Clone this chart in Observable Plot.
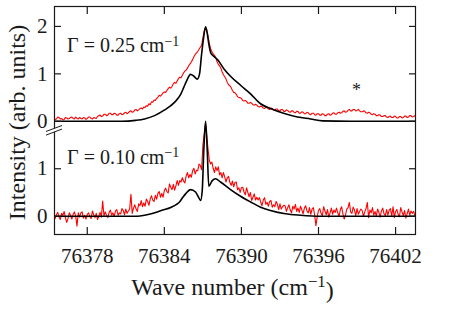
<!DOCTYPE html>
<html><head><meta charset="utf-8">
<script src="https://cdn.jsdelivr.net/npm/d3@7"></script>
<script src="https://cdn.jsdelivr.net/npm/@observablehq/plot@0.6"></script>
<style>body{margin:0;background:#fff} svg{display:block}</style>
</head><body><div id="chart"></div>
<script>
// Shared wave-number grid of the measured spectra (cm^-1)
const waveNumbers = [
  76375.4, 76375.5, 76375.6, 76375.7, 76375.8, 76375.9, 76376.0, 76376.1, 76376.2, 76376.3, 76376.4, 76376.5, 76376.6, 76376.7, 76376.8, 76376.9, 76377.0, 76377.1, 76377.2, 76377.3,
  76377.4, 76377.5, 76377.6, 76377.7, 76377.8, 76377.9, 76378.0, 76378.1, 76378.2, 76378.3, 76378.4, 76378.5, 76378.6, 76378.7, 76378.8, 76378.9, 76379.0, 76379.1, 76379.2, 76379.3,
  76379.4, 76379.5, 76379.6, 76379.7, 76379.8, 76379.9, 76380.0, 76380.1, 76380.2, 76380.3, 76380.4, 76380.5, 76380.6, 76380.7, 76380.8, 76380.9, 76381.0, 76381.1, 76381.2, 76381.3,
  76381.4, 76381.5, 76381.6, 76381.7, 76381.8, 76381.9, 76382.0, 76382.1, 76382.2, 76382.3, 76382.4, 76382.5, 76382.6, 76382.7, 76382.8, 76382.9, 76383.0, 76383.1, 76383.2, 76383.3,
  76383.4, 76383.5, 76383.6, 76383.7, 76383.8, 76383.9, 76384.0, 76384.1, 76384.2, 76384.3, 76384.4, 76384.5, 76384.6, 76384.7, 76384.8, 76384.9, 76385.0, 76385.1, 76385.2, 76385.3,
  76385.4, 76385.5, 76385.6, 76385.7, 76385.8, 76385.9, 76386.0, 76386.1, 76386.2, 76386.3, 76386.4, 76386.5, 76386.6, 76386.7, 76386.8, 76386.9, 76387.0, 76387.1, 76387.2, 76387.3,
  76387.4, 76387.5, 76387.6, 76387.7, 76387.8, 76387.9, 76388.0, 76388.1, 76388.2, 76388.3, 76388.4, 76388.5, 76388.6, 76388.7, 76388.8, 76388.9, 76389.0, 76389.1, 76389.2, 76389.3,
  76389.4, 76389.5, 76389.6, 76389.7, 76389.8, 76389.9, 76390.0, 76390.1, 76390.2, 76390.3, 76390.4, 76390.5, 76390.6, 76390.7, 76390.8, 76390.9, 76391.0, 76391.1, 76391.2, 76391.3,
  76391.4, 76391.5, 76391.6, 76391.7, 76391.8, 76391.9, 76392.0, 76392.1, 76392.2, 76392.3, 76392.4, 76392.5, 76392.6, 76392.7, 76392.8, 76392.9, 76393.0, 76393.1, 76393.2, 76393.3,
  76393.4, 76393.5, 76393.6, 76393.7, 76393.8, 76393.9, 76394.0, 76394.1, 76394.2, 76394.3, 76394.4, 76394.5, 76394.6, 76394.7, 76394.8, 76394.9, 76395.0, 76395.1, 76395.2, 76395.3,
  76395.4, 76395.5, 76395.6, 76395.7, 76395.8, 76395.9, 76396.0, 76396.1, 76396.2, 76396.3, 76396.4, 76396.5, 76396.6, 76396.7, 76396.8, 76396.9, 76397.0, 76397.1, 76397.2, 76397.3,
  76397.4, 76397.5, 76397.6, 76397.7, 76397.8, 76397.9, 76398.0, 76398.1, 76398.2, 76398.3, 76398.4, 76398.5, 76398.6, 76398.7, 76398.8, 76398.9, 76399.0, 76399.1, 76399.2, 76399.3,
  76399.4, 76399.5, 76399.6, 76399.7, 76399.8, 76399.9, 76400.0, 76400.1, 76400.2, 76400.3, 76400.4, 76400.5, 76400.6, 76400.7, 76400.8, 76400.9, 76401.0, 76401.1, 76401.2, 76401.3,
  76401.4, 76401.5, 76401.6, 76401.7, 76401.8, 76401.9, 76402.0, 76402.1, 76402.2, 76402.3, 76402.4, 76402.5, 76402.6, 76402.7, 76402.8, 76402.9, 76403.0, 76403.1, 76403.2, 76403.3,
  76403.4, 76403.5, 76403.6
];
// Measured intensity, Γ = 0.25 cm^-1 (upper panel)
const measuredTop = [
  0.07, 0.04, 0.05, 0.09, 0.08, 0.05, 0.06, 0.03, 0.04, 0.08, 0.07, 0.05, 0.06, 0.08, 0.09, 0.06, 0.05, 0.09, 0.06, 0.05,
  0.08, 0.06, 0.05, 0.08, 0.07, 0.04, 0.06, 0.09, 0.09, 0.06, 0.05, 0.08, 0.07, 0.06, 0.10, 0.12, 0.13, 0.10, 0.11, 0.15,
  0.15, 0.12, 0.13, 0.17, 0.17, 0.14, 0.14, 0.17, 0.16, 0.13, 0.13, 0.16, 0.17, 0.14, 0.15, 0.18, 0.19, 0.16, 0.18, 0.21,
  0.22, 0.19, 0.20, 0.24, 0.25, 0.22, 0.24, 0.27, 0.28, 0.26, 0.30, 0.29, 0.33, 0.32, 0.37, 0.35, 0.41, 0.40, 0.45, 0.44,
  0.48, 0.51, 0.55, 0.53, 0.56, 0.60, 0.62, 0.61, 0.65, 0.69, 0.72, 0.70, 0.74, 0.79, 0.82, 0.80, 0.85, 0.90, 0.93, 0.92,
  0.97, 1.02, 1.06, 1.08, 1.12, 1.17, 1.21, 1.25, 1.30, 1.36, 1.41, 1.44, 1.47, 1.52, 1.56, 1.60, 1.76, 1.90, 1.97, 1.93,
  1.80, 1.64, 1.53, 1.47, 1.42, 1.39, 1.34, 1.26, 1.20, 1.17, 1.12, 1.04, 0.98, 0.94, 0.89, 0.82, 0.77, 0.75, 0.71, 0.65,
  0.61, 0.60, 0.57, 0.52, 0.50, 0.50, 0.48, 0.44, 0.43, 0.44, 0.42, 0.38, 0.38, 0.40, 0.38, 0.35, 0.34, 0.36, 0.34, 0.31,
  0.30, 0.32, 0.31, 0.28, 0.27, 0.30, 0.29, 0.26, 0.25, 0.28, 0.27, 0.24, 0.23, 0.26, 0.26, 0.22, 0.22, 0.25, 0.25, 0.21,
  0.21, 0.24, 0.23, 0.20, 0.19, 0.22, 0.22, 0.19, 0.18, 0.21, 0.21, 0.17, 0.17, 0.20, 0.19, 0.16, 0.16, 0.19, 0.18, 0.15,
  0.14, 0.17, 0.17, 0.14, 0.13, 0.16, 0.16, 0.13, 0.13, 0.16, 0.15, 0.12, 0.12, 0.15, 0.16, 0.13, 0.14, 0.17, 0.18, 0.15,
  0.15, 0.18, 0.19, 0.17, 0.18, 0.21, 0.22, 0.19, 0.20, 0.23, 0.25, 0.22, 0.22, 0.25, 0.25, 0.22, 0.23, 0.25, 0.22, 0.20,
  0.20, 0.22, 0.21, 0.18, 0.17, 0.19, 0.18, 0.15, 0.14, 0.16, 0.15, 0.12, 0.12, 0.14, 0.13, 0.10, 0.10, 0.12, 0.12, 0.09,
  0.08, 0.10, 0.11, 0.08, 0.08, 0.11, 0.10, 0.07, 0.07, 0.10, 0.10, 0.07, 0.08, 0.11, 0.11, 0.08, 0.09, 0.12, 0.12, 0.09,
  0.10, 0.12, 0.11
];
// Measured intensity, Γ = 0.10 cm^-1 (lower panel)
const measuredBottom = [
  0.05, -0.05, 0.03, 0.08, -0.01, -0.07, 0.06, 0.01, 0.10, -0.03, -0.13, -0.05, 0.07, 0.02, -0.06, 0.04, 0.09, 0.00, -0.21, 0.07,
  -0.02, 0.07, 0.09, -0.04, 0.02, -0.06, 0.04, 0.07, 0.00, -0.05, 0.11, 0.03, -0.03, 0.06, -0.07, 0.00, 0.08, -0.02, 0.32, 0.01,
  0.09, 0.02, -0.03, 0.08, 0.13, 0.02, 0.07, 0.00, 0.11, 0.14, 0.02, 0.07, 0.05, 0.16, 0.12, 0.03, 0.15, 0.06, 0.11, 0.15,
  0.46, 0.06, 0.17, 0.24, 0.15, 0.10, 0.26, 0.22, 0.33, 0.20, 0.28, 0.21, 0.36, 0.31, 0.23, 0.36, 0.43, 0.34, 0.31, 0.44,
  0.36, 0.48, 0.52, 0.40, 0.48, 0.40, 0.54, 0.59, 0.52, 0.49, 0.68, 0.61, 0.56, 0.67, 0.55, 0.64, 0.75, 0.65, 0.75, 0.72,
  0.81, 0.74, 0.70, 0.85, 0.92, 0.81, 0.88, 0.82, 0.96, 1.01, 0.89, 0.97, 0.96, 1.10, 1.07, 0.98, 1.50, 1.72, 1.96, 1.70,
  1.42, 1.18, 1.10, 1.14, 1.01, 0.92, 1.04, 0.96, 1.04, 0.87, 0.92, 0.81, 0.92, 0.83, 0.72, 0.81, 0.84, 0.71, 0.65, 0.74,
  0.62, 0.71, 0.72, 0.56, 0.60, 0.50, 0.60, 0.61, 0.51, 0.45, 0.60, 0.50, 0.41, 0.50, 0.33, 0.40, 0.47, 0.34, 0.40, 0.34,
  0.39, 0.30, 0.22, 0.34, 0.39, 0.25, 0.29, 0.21, 0.31, 0.33, 0.19, 0.24, 0.20, 0.31, 0.25, 0.14, 0.26, 0.15, 0.20, 0.23,
  0.22, 0.10, 0.18, 0.24, 0.13, 0.07, 0.21, 0.15, 0.25, 0.10, 0.17, 0.08, 0.21, 0.14, 0.05, 0.17, 0.22, 0.11, 0.07, 0.18,
  0.04, 0.15, 0.18, 0.02, -0.20, -0.01, 0.12, 0.16, 0.06, 0.01, 0.20, 0.11, 0.03, 0.14, -0.02, 0.07, 0.17, 0.04, 0.13, 0.08,
  0.17, 0.07, 0.00, 0.14, 0.20, 0.05, -0.06, 0.02, 0.15, 0.18, 0.29, 0.09, 0.06, 0.19, 0.13, 0.01, 0.16, 0.04, 0.10, 0.15,
  0.12, -0.01, 0.09, 0.16, 0.29, -0.03, 0.13, 0.07, 0.18, 0.02, 0.10, 0.00, 0.15, 0.08, -0.02, 0.11, 0.17, 0.05, 0.01, 0.14,
  0.02, 0.13, 0.16, 0.00, 0.20, -0.03, 0.10, 0.14, 0.04, -0.01, 0.18, 0.09, 0.01, 0.12, -0.04, 0.05, 0.15, 0.02, 0.11, 0.06,
  0.10, 0.01, 0.05
];
// Simulated curves (black)
const simTopW = [76375.45, 76380.67, 76381.76, 76382.46, 76383.24, 76384.02, 76384.79, 76385.26, 76385.52, 76385.78,
  76386.04, 76386.30, 76386.56, 76386.74, 76386.89, 76387.05, 76387.21, 76387.34, 76387.48, 76387.63,
  76387.85, 76388.14, 76388.63, 76389.15, 76389.93, 76390.71, 76391.49, 76392.26, 76393.28, 76394.37,
  76395.38, 76396.31, 76398.5, 76403.55];
const simTopV = [0, 0, 0.02, 0.05, 0.12, 0.24, 0.40, 0.56, 0.72, 0.88,
  0.99, 0.95, 0.89, 1.00, 1.39, 1.75, 1.99, 1.85, 1.60, 1.43,
  1.37, 1.30, 1.11, 0.95, 0.76, 0.58, 0.37, 0.27, 0.17, 0.09,
  0.05, 0.01, 0, 0];
const simBottomW = [76375.45, 76381.92, 76382.46, 76382.98, 76383.76, 76384.54, 76384.95, 76385.18, 76385.44, 76385.65,
  76386.04, 76386.43, 76386.66, 76386.82, 76386.95, 76387.07, 76387.21, 76387.34, 76387.46, 76387.73,
  76387.98, 76388.37, 76389.15, 76389.93, 76390.71, 76391.49, 76392.26, 76393.43, 76394.60, 76396.15,
  76403.55];
const simBottomV = [0, 0, 0.02, 0.05, 0.12, 0.19, 0.25, 0.30, 0.40, 0.47,
  0.56, 0.51, 0.40, 0.33, 0.54, 1.38, 2.00, 1.38, 0.63, 0.75,
  0.79, 0.72, 0.56, 0.42, 0.30, 0.19, 0.12, 0.05, 0.02, 0,
  0];
const xTicks = [76378, 76384, 76390, 76396, 76402];
const yTicks = [0, 1, 2, 3, 4];
const yTickLabels = ["0", "1", "0", "1", "2"];
const panelLabels = ["Γ = 0.25 cm", "Γ = 0.10 cm"];

const offset = 2; // upper panel stacked 2 units above lower one
const redTop = waveNumbers.map((w, i) => ({w, v: measuredTop[i] + offset}));
const redBottom = waveNumbers.map((w, i) => ({w, v: measuredBottom[i]}));
const blackTop = simTopW.map((w, i) => ({w, v: simTopV[i] + offset}));
const blackBottom = simBottomW.map((w, i) => ({w, v: simBottomV[i]}));

const font = "'Liberation Serif', 'Times New Roman', serif";
const ink = "#1a1a1a";

const plot = Plot.plot({
  width: 473, height: 312,
  marginLeft: 54, marginRight: 58, marginTop: 6, marginBottom: 78,
  style: {fontFamily: font, background: "white", color: ink},
  x: {domain: [76375.45, 76403.55], label: null},
  y: {domain: [-0.386, 4.42], label: null},
  marks: [
    Plot.line(redBottom, {x: "w", y: "v", stroke: "#ff0000", strokeWidth: 1.1, clip: true}),
    Plot.line(redTop, {x: "w", y: "v", stroke: "#ff0000", strokeWidth: 1.1, clip: true}),
    Plot.line(blackBottom, {x: "w", y: "v", stroke: "black", strokeWidth: 1.6, curve: "monotone-x", clip: true}),
    Plot.line(blackTop, {x: "w", y: "v", stroke: "black", strokeWidth: 1.6, curve: "monotone-x", clip: true}),
    Plot.frame({stroke: ink, strokeWidth: 1.2}),
    Plot.axisX({anchor: "bottom", ticks: xTicks, tickSize: -7, tickFormat: () => "", label: null, strokeWidth: 1.2}),
    Plot.axisX({anchor: "top", ticks: xTicks, tickSize: -7, tickFormat: () => "", label: null, strokeWidth: 1.2}),
    Plot.axisX({anchor: "bottom", ticks: xTicks, tickSize: 0, tickPadding: 14, fontSize: 21, tickFormat: d => String(d), label: null}),
    Plot.axisY({anchor: "left", ticks: yTicks, tickSize: -7, tickFormat: () => "", label: null, strokeWidth: 1.2}),
    Plot.axisY({anchor: "right", ticks: yTicks, tickSize: -7, tickFormat: () => "", label: null, strokeWidth: 1.2}),
    Plot.axisY({anchor: "left", ticks: yTicks, tickSize: 0, tickPadding: 7, fontSize: 21, tickFormat: d => yTickLabels[yTicks.indexOf(d)], label: null}),
    Plot.text(["*"], {x: 76398.96, y: 2.66, text: d => d, fontSize: 18, fill: ink})
  ]
});
document.getElementById("chart").appendChild(plot);

const svg = d3.select(plot);
const sx = plot.scale("x"), sy = plot.scale("y");

function supText(sel, main, sup, tail) {
  sel.append("tspan").text(main);
  sel.append("tspan").attr("dy", "-0.45em").attr("font-size", "70%").text(sup);
  if (tail) sel.append("tspan").attr("dy", "0.45em").text(tail);
}

// panel labels
const lx = sx.apply(76376.47);
[[panelLabels[0], 3.45], [panelLabels[1], 1.10]].forEach(([t, yv]) => {
  const g = svg.append("text").attr("x", lx).attr("y", sy.apply(yv)).attr("text-anchor", "start")
    .attr("font-family", font).attr("font-size", 20).attr("fill", ink);
  supText(g, t, "−1");
});

// axis titles
const xt = svg.append("text").attr("x", 232.5).attr("y", 295).attr("text-anchor", "middle")
  .attr("font-family", font).attr("font-size", 24).attr("fill", ink);
supText(xt, "Wave number (cm", "−1", ")");
svg.append("text").attr("transform", "translate(25,122.5) rotate(-90)").attr("text-anchor", "middle")
  .attr("font-family", font).attr("font-size", 24).attr("fill", ink).text("Intensity (arb. units)");

// axis break marks on the left spine
const bx = sx.apply(76375.45), by = sy.apply(1.8);
const dx = 8, dy = 3, gap = 1.8;
svg.append("path")
  .attr("d", `M${bx - dx},${by + dy - gap}L${bx + dx},${by - dy - gap}L${bx + dx},${by - dy + gap}L${bx - dx},${by + dy + gap}Z`)
  .attr("fill", "white");
[-gap, gap].forEach(o => svg.append("line")
  .attr("x1", bx - dx).attr("y1", by + dy + o).attr("x2", bx + dx).attr("y2", by - dy + o)
  .attr("stroke", ink).attr("stroke-width", 1));
</script>
</body></html>
